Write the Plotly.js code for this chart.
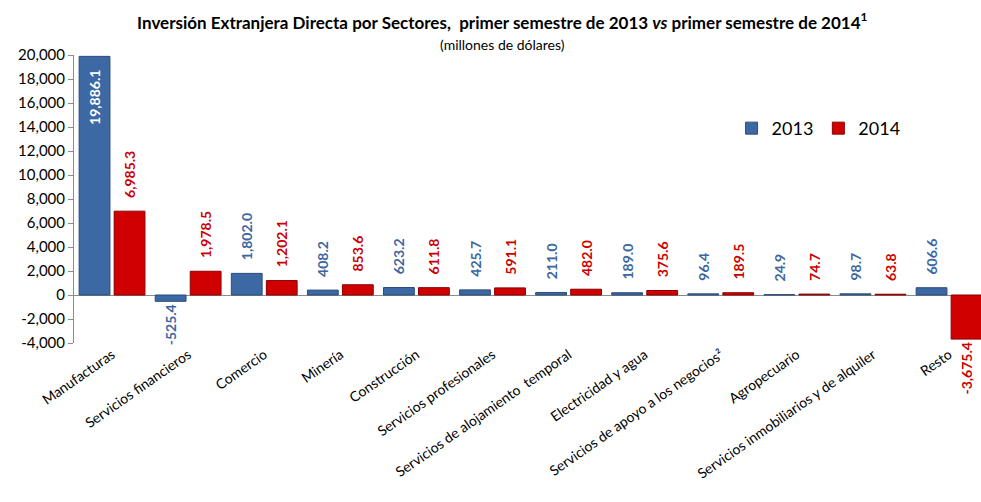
<!DOCTYPE html>
<html>
<head>
<meta charset="utf-8">
<script src="https://cdn.plot.ly/plotly-3.0.1.min.js"></script>
<style>html,body{margin:0;padding:0;background:#fff;}#chart{width:981px;height:502px;}</style>
</head>
<body>
<div id="chart"></div>
<script>
const categories = ["Manufacturas", "Servicios financieros", "Comercio", "Minería", "Construcción",
  "Servicios profesionales", "Servicios de alojamiento  temporal", "Electricidad y agua",
  "Servicios de apoyo a los negocios²", "Agropecuario", "Servicios inmobiliarios y de alquiler", "Resto"];
const values2013 = [19886.1, -525.4, 1802.0, 408.2, 623.2, 425.7, 211.0, 189.0, 96.4, 24.9, 98.7, 606.6];
const values2014 = [6985.3, 1978.5, 1202.1, 853.6, 611.8, 591.1, 482.0, 375.6, 189.5, 74.7, 63.8, -3675.4];
const yTickVals = [-4000, -2000, 0, 2000, 4000, 6000, 8000, 10000, 12000, 14000, 16000, 18000, 20000];
const yTickText = ["-4,000", "-2,000", "0", "2,000", "4,000", "6,000", "8,000", "10,000", "12,000", "14,000", "16,000", "18,000", "20,000"];

const FONT = "Lato, 'Open Sans', sans-serif";
const pad = "\u00a0\u00a0\u00a0";
function fmt(v) {
  const s = Math.abs(v).toLocaleString("en-US", {minimumFractionDigits: 1, maximumFractionDigits: 1});
  return (v < 0 ? "-" : "") + s;
}
function labels(vals, insideIdx) {
  return vals.map((v, i) => v >= 0 ? (i === insideIdx ? fmt(v) + pad : pad + fmt(v)) : fmt(v));
}
const pos2013 = values2013.map((v, i) => i === 0 ? "inside" : "outside");

const traces = [
  {
    type: "bar", name: "2013", x: categories, y: values2013,
    text: labels(values2013, 0), textposition: pos2013, textangle: -90,
    insidetextanchor: "end", constraintext: "none", cliponaxis: false,
    textfont: {family: FONT, size: 14, color: "#3D66A0", weight: "bold"},
    insidetextfont: {family: FONT, size: 14, color: "#ffffff", weight: "bold"},
    outsidetextfont: {family: FONT, size: 14, color: "#3D66A0", weight: "bold"},
    marker: {color: "#3C69A3", line: {color: "#2B4C78", width: 1}},
    hoverinfo: "x+y"
  },
  {
    type: "bar", name: "2014", x: categories, y: values2014,
    text: labels(values2014, -1), textposition: "outside", textangle: -90,
    constraintext: "none", cliponaxis: false,
    textfont: {family: FONT, size: 14, color: "#CC0000", weight: "bold"},
    outsidetextfont: {family: FONT, size: 14, color: "#CC0000", weight: "bold"},
    marker: {color: "#D00000", line: {color: "#8A0000", width: 1}},
    hoverinfo: "x+y"
  }
];

const xRange = [-0.5, 11.42];
const layout = {
  width: 981, height: 502,
  margin: {l: 74, r: 0, t: 55, b: 159},
  paper_bgcolor: "#ffffff", plot_bgcolor: "rgba(0,0,0,0)",
  font: {family: FONT, color: "#000000", size: 13},
  title: {
    text: "<b>Inversión Extranjera Directa por Sectores,  primer semestre de 2013 <i>vs</i> primer semestre de 2014<sup>1</sup></b>",
    font: {family: FONT, size: 17, color: "#000000"},
    x: 0.512, xanchor: "center", y: 0.955, yanchor: "middle"
  },
  annotations: [{
    text: "(millones de dólares)", xref: "paper", yref: "paper", x: 0.472, y: 1.035,
    xanchor: "center", yanchor: "middle", showarrow: false,
    font: {family: FONT, size: 14, color: "#000000"}
  }],
  barmode: "group", bargap: 0.08, bargroupgap: 0.12,
  showlegend: true,
  legend: {
    orientation: "h", x: 0.725, y: 0.745, xanchor: "left", yanchor: "middle",
    font: {family: FONT, size: 18, color: "#000000"}, bgcolor: "rgba(0,0,0,0)",
    itemwidth: 30, tracegroupgap: 0
  },
  xaxis: {
    type: "category", range: xRange, tickangle: -35,
    showline: false, showgrid: false, zeroline: false, ticks: "",
    tickfont: {family: FONT, size: 14, color: "#000000"}
  },
  xaxis2: {
    overlaying: "x", anchor: "free", position: 4000 / 24000, range: xRange,
    tickvals: categories.map((c, i) => i - 0.5), ticks: "outside", ticklen: 5,
    tickcolor: "#8c8c8c", showticklabels: false, showline: false, showgrid: false, zeroline: false
  },
  yaxis: {
    range: [-4000, 20000], tickvals: yTickVals, ticktext: yTickText,
    showgrid: false, zeroline: true, zerolinecolor: "#8c8c8c", zerolinewidth: 1,
    showline: true, linecolor: "#8c8c8c", linewidth: 1, ticks: "outside", ticklen: 5, tickcolor: "#8c8c8c",
    tickfont: {family: FONT, size: 15, color: "#000000"}
  }
};

Plotly.newPlot("chart", traces, layout, {displayModeBar: false, staticPlot: true});
</script>
</body>
</html>
